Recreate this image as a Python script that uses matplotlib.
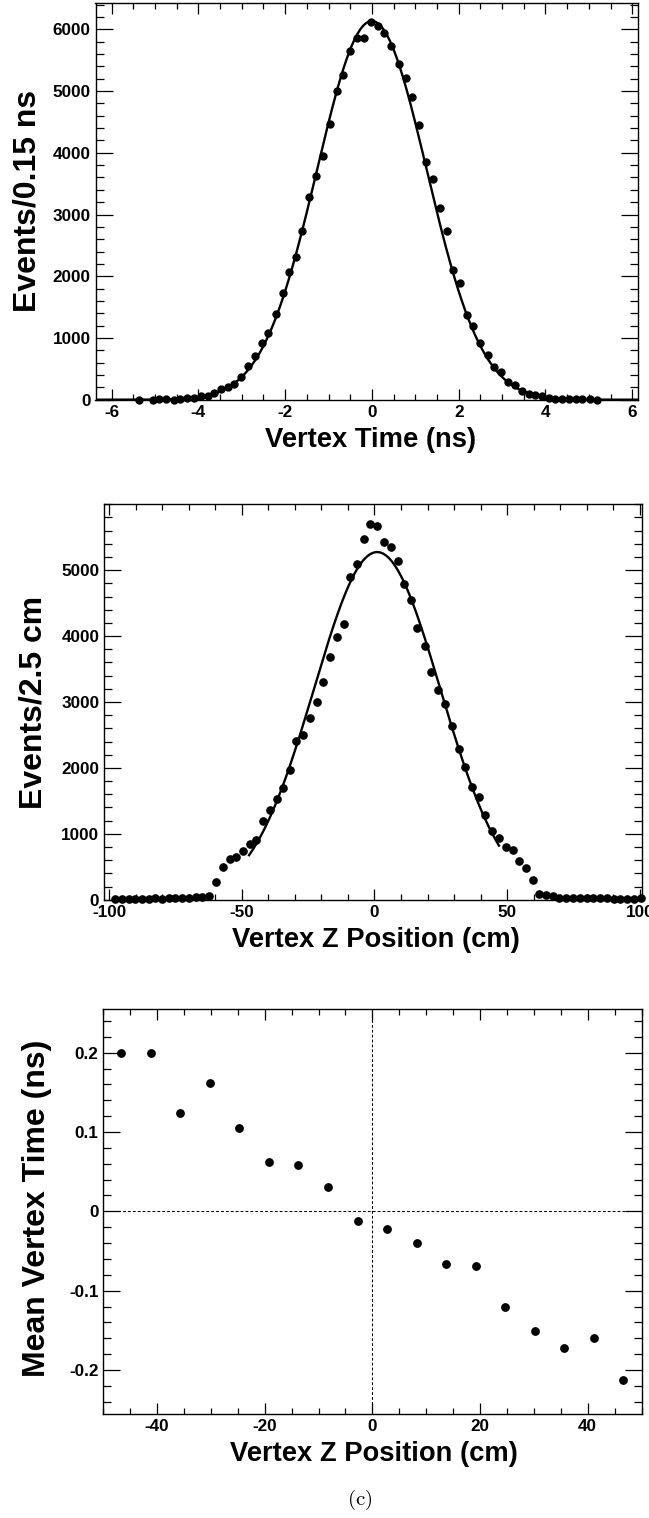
import numpy as np
import matplotlib
matplotlib.use("Agg")
import matplotlib.pyplot as plt
from matplotlib.ticker import MultipleLocator, FixedLocator, FixedFormatter

# ---------------- data ----------------
# Panel (a): vertex time distribution (ns, events / 0.15 ns)
time_x = [-5.37, -5.05, -4.90, -4.74, -4.57, -4.42, -4.27, -4.11, -3.95, -3.78,
          -3.63, -3.48, -3.32, -3.17, -3.02, -2.85, -2.69, -2.53, -2.39, -2.22,
          -2.06, -1.91, -1.76, -1.60, -1.44, -1.29, -1.13, -0.97, -0.81, -0.66,
          -0.51, -0.35, -0.19, -0.03,
          0.15, 0.29, 0.45, 0.62, 0.78, 0.92, 1.09, 1.25, 1.41, 1.56,
          1.72, 1.88, 2.03, 2.19, 2.34, 2.50, 2.67, 2.82, 2.98, 3.14,
          3.30, 3.45, 3.61, 3.77, 3.92, 4.08, 4.23, 4.38, 4.54, 4.70,
          4.85, 5.02, 5.18]
time_y = [2, 2, 5, 5, 3, 16, 22, 27, 65, 60,
          108, 168, 205, 260, 362, 540, 708, 919, 1076, 1384,
          1724, 2070, 2319, 2741, 3276, 3632, 3951, 4470, 4995, 5259,
          5643, 5865, 5860, 6119,
          6054, 5946, 5724, 5443, 5211, 4903, 4443, 3859, 3578, 3103,
          2741, 2103, 1897, 1373, 1200, 919, 724, 524, 443, 292,
          238, 135, 92, 76, 54, 22, 16, 16, 11, 11,
          5, 5, 2]
time_fit_amp, time_fit_mean, time_fit_sigma = 6135.0, 0.0, 1.265

# Panel (b): vertex z distribution (cm, events / 2.5 cm)
z_x = [-97.9, -95.3, -92.6, -90.1, -87.5, -85.0, -82.5, -80.0, -77.5, -75.0,
       -72.4, -69.9, -67.4, -64.9, -62.3, -59.8, -57.1, -54.6, -52.1, -49.5,
       -47.0, -44.5, -41.9, -39.4, -36.9, -34.4, -31.9, -29.4, -26.8, -24.3,
       -21.8, -19.3, -16.8, -14.1, -11.6, -9.1, -6.6, -4.1, -1.6, 0.9,
       3.6, 6.2, 8.7, 11.2, 13.8, 16.2, 18.9, 21.4, 24.0, 26.5,
       29.1, 31.7, 34.2, 36.7, 39.2, 41.8, 44.3, 46.9, 49.4, 52.1,
       54.5, 57.1, 59.6, 62.1, 64.7, 67.2, 69.7, 72.3, 74.8, 77.4,
       79.9, 82.5, 85.0, 87.5, 90.1, 92.6, 95.2, 97.7, 100.3]
z_y = [5, 5, 5, 5, 10, 10, 20, 15, 30, 20,
       30, 30, 40, 45, 60, 273, 490, 611, 641, 732,
       838, 904, 1187, 1354, 1535, 1697, 1975, 2414, 2495, 2763,
       2995, 3303, 3677, 3985, 4182, 4899, 5101, 5475, 5702, 5667,
       5434, 5354, 5136, 4793, 4551, 4116, 3843, 3460, 3182, 2970,
       2636, 2288, 2010, 1717, 1561, 1283, 1035, 939, 803, 753,
       586, 485, 298, 91, 66, 51, 30, 30, 25, 25,
       20, 25, 25, 20, 15, 15, 15, 15, 20]
z_fit_amp, z_fit_mean, z_fit_sigma = 5275.0, 1.0, 23.8
z_fit_range = (-47.25, 46.9)

# Panel (c): mean vertex time vs vertex z
mz_x = [-46.7, -41.2, -35.7, -30.2, -24.7, -19.2, -13.8, -8.2, -2.7,
        2.8, 8.2, 13.7, 19.2, 24.7, 30.2, 35.6, 41.2, 46.6]
mz_y = [0.200, 0.200, 0.124, 0.162, 0.105, 0.062, 0.058, 0.031, -0.0116,
        -0.0219, -0.0403, -0.0669, -0.0686, -0.121, -0.151, -0.172, -0.160, -0.213]

time_xticks = [-6, -4, -2, 0, 2, 4, 6]
time_yticks = [0, 1000, 2000, 3000, 4000, 5000, 6000]
z_xticks = [-100, -50, 0, 50, 100]
z_yticks = [0, 1000, 2000, 3000, 4000, 5000]
mz_xticks = [-40, -20, 0, 20, 40]
mz_yticks = [-0.2, -0.1, 0.0, 0.1, 0.2]
mz_ylabels = ["-0.2", "-0.1", "0", "0.1", "0.2"]

# ---------------- style ----------------
plt.rcParams['font.family'] = ['Liberation Sans', 'DejaVu Sans']
plt.rcParams['font.weight'] = 'bold'
plt.rcParams['axes.unicode_minus'] = False
plt.rcParams['mathtext.fontset'] = 'cm'

W, H = 649, 1518
fig = plt.figure(figsize=(W / 100, H / 100), dpi=100)

def px_axes(l, r, t, b):
    return fig.add_axes([l / W, 1 - b / H, (r - l) / W, (b - t) / H])

TICK_FS = 12.3
XLAB_FS = 19.7
YLAB_FS = 23

def style(ax, xmaj, xmin, ymaj, ymin):
    ax.xaxis.set_major_locator(FixedLocator(xmaj))
    ax.xaxis.set_minor_locator(MultipleLocator(xmin))
    ax.yaxis.set_major_locator(FixedLocator(ymaj))
    ax.yaxis.set_minor_locator(MultipleLocator(ymin))
    ax.tick_params(which='both', direction='in', top=True, right=True,
                   width=0.9, color='black', labelsize=TICK_FS)
    ax.tick_params(axis='x', which='major', length=7.7, pad=3.8)
    ax.tick_params(axis='x', which='minor', length=4.2)
    ax.tick_params(axis='y', which='major', length=12, pad=3.4)
    ax.tick_params(axis='y', which='minor', length=6)
    for sp in ax.spines.values():
        sp.set_linewidth(1.0)

def bold_ticks(ax):
    for lab in ax.get_xticklabels() + ax.get_yticklabels():
        lab.set_fontweight('bold')

def ylab(x_base, y_center, text):
    fig.text(x_base / W, 1 - y_center / H, text, rotation=90, rotation_mode='anchor',
             ha='center', va='baseline', fontsize=YLAB_FS, fontweight='bold')

def xlab(x_center, y_base, text):
    fig.text(x_center / W, 1 - y_base / H, text, ha='center', va='baseline',
             fontsize=XLAB_FS, fontweight='bold')

# ---------- panel (a) ----------
ax1 = px_axes(95.5, 638.3, 2.7, 399.7)
tf = np.linspace(-6.37, 6.14, 800)
ax1.plot(tf, time_fit_amp * np.exp(-0.5 * ((tf - time_fit_mean) / time_fit_sigma) ** 2),
         color='black', lw=1.7, zorder=2)
ax1.plot(time_x, time_y, 'o', color='black', ms=5.0, zorder=3, clip_on=False)
ax1.set_xlim(-6.37, 6.14)
ax1.set_ylim(0, 6432)
style(ax1, time_xticks, 0.5, time_yticks, 200)
ax1.set_xticklabels([str(v) for v in time_xticks])
ax1.set_yticklabels([str(v) for v in time_yticks])
bold_ticks(ax1)
ylab(36, 201, "Events/0.15 ns")
xlab(371, 446.7, "Vertex Time (ns)")

# ---------- panel (b) ----------
ax2 = px_axes(104, 642.3, 504.3, 899.7)
zf = np.linspace(z_fit_range[0], z_fit_range[1], 600)
ax2.plot(zf, z_fit_amp * np.exp(-0.5 * ((zf - z_fit_mean) / z_fit_sigma) ** 2),
         color='black', lw=1.7, zorder=2)
ax2.plot(z_x, z_y, 'o', color='black', ms=5.2, zorder=3, clip_on=False)
ax2.set_xlim(-101.9, 100.9)
ax2.set_ylim(0, 6000)
style(ax2, z_xticks, 10, z_yticks, 200)
ax2.set_xticklabels([str(v) for v in z_xticks])
ax2.set_yticklabels([str(v) for v in z_yticks])
bold_ticks(ax2)
ylab(42, 702, "Events/2.5 cm")
xlab(376, 946.7, "Vertex Z Position (cm)")

# ---------- panel (c) ----------
ax3 = px_axes(103.3, 641.5, 1009.3, 1414)
ax3.axhline(0, color='black', lw=0.75, dashes=(2.7, 2.0), zorder=1)
ax3.axvline(0, color='black', lw=0.75, dashes=(2.7, 2.0), zorder=1)
ax3.plot(mz_x, mz_y, 'o', color='black', ms=5.3, zorder=3)
ax3.set_xlim(-50, 50)
ax3.set_ylim(-0.2555, 0.2547)
style(ax3, mz_xticks, 5, mz_yticks, 0.02)
ax3.set_xticklabels([str(v) for v in mz_xticks])
ax3.yaxis.set_major_formatter(FixedFormatter(mz_ylabels))
bold_ticks(ax3)
ylab(45, 1208, "Mean Vertex Time (ns)")
xlab(374, 1461, "Vertex Z Position (cm)")

fig.text(360 / W, 1 - 1500 / H, r'$\mathrm{(c)}$', ha='center', va='center', fontsize=15)

fig.savefig("out.png", dpi=100)
